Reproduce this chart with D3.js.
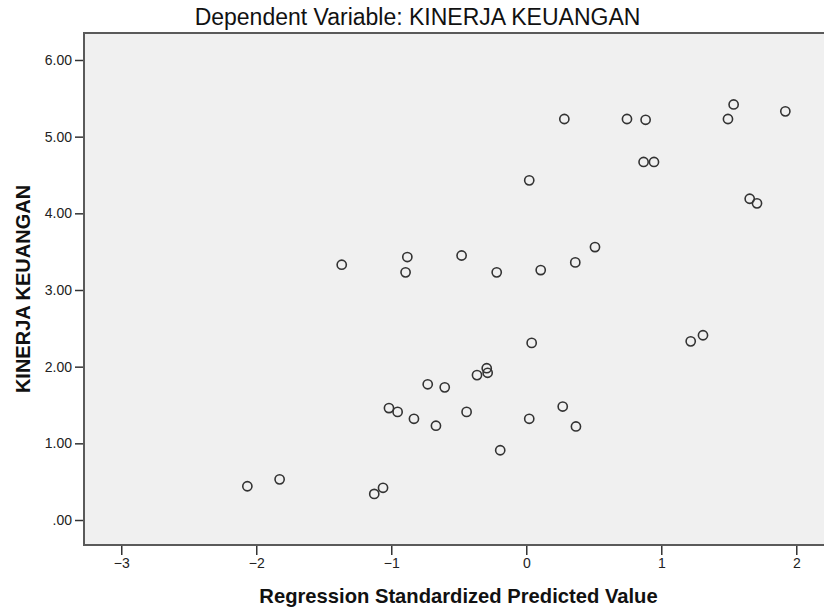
<!DOCTYPE html>
<html>
<head>
<meta charset="utf-8">
<script src="https://cdn.jsdelivr.net/npm/d3@7"></script>
<style>
  html, body { margin: 0; padding: 0; background: #fff; }
  svg { display: block; font-family: "Liberation Sans", Arial, sans-serif; }
</style>
</head>
<body>
<div id="chart"></div>
<script>
// ---- data ----
const predicted = [
  -1.367, -0.881, -0.894, -0.479, -0.219, 0.107, 0.363, 0.509,
  0.746, 0.884, 0.869, 0.946, 1.536, 1.494, 1.919, 1.655, 1.709,
  0.282, 0.022, 0.040, -0.293, -0.286, -0.365, -0.730, -0.604,
  -1.017, -0.953, -0.832, -0.669, -0.442, 0.022, 0.270, 0.368,
  -0.193, -1.126, -1.061, -2.066, -1.827, 1.218, 1.309
];
const kinerja = [
  3.33, 3.43, 3.23, 3.45, 3.23, 3.26, 3.36, 3.56,
  5.23, 5.22, 4.67, 4.67, 5.42, 5.23, 5.33, 4.19, 4.13,
  5.23, 4.43, 2.31, 1.98, 1.92, 1.89, 1.77, 1.73,
  1.46, 1.41, 1.32, 1.23, 1.41, 1.32, 1.48, 1.22,
  0.91, 0.34, 0.42, 0.44, 0.53, 2.33, 2.41
];
const xTicks = [-3, -2, -1, 0, 1, 2];
const yTicks = [0, 1, 2, 3, 4, 5, 6];
const titleText = "Dependent Variable: KINERJA KEUANGAN";
const xLabel = "Regression Standardized Predicted Value";
const yLabel = "KINERJA KEUANGAN";

// ---- layout ----
const W = 824, H = 609;
const plot = { left: 84, right: 833, top: 33, bottom: 545 };

const svg = d3.select("#chart").append("svg")
  .attr("width", W).attr("height", H);

const x = d3.scaleLinear().domain([-3.276, 2.272]).range([plot.left, plot.right]);
const y = d3.scaleLinear().domain([-0.326, 6.352]).range([plot.bottom, plot.top]);

// background
svg.append("rect")
  .attr("x", plot.left).attr("y", plot.top)
  .attr("width", plot.right - plot.left).attr("height", plot.bottom - plot.top)
  .attr("fill", "#f0f0f0").attr("stroke", "#5a5a5a").attr("stroke-width", 2);

// y axis
const yAxis = d3.axisLeft(y).tickValues(yTicks).tickSize(8).tickPadding(3)
  .tickFormat(d => d === 0 ? ".00" : d3.format(".2f")(d));
const gy = svg.append("g").attr("transform", `translate(${plot.left - 1},0)`).call(yAxis);
gy.select(".domain").remove();
gy.selectAll(".tick line").attr("stroke", "#333").attr("stroke-width", 1.5);
gy.selectAll(".tick text").attr("fill", "#222").style("font-size", "14px");

// x axis
const xAxis = d3.axisBottom(x).tickValues(xTicks).tickSize(9).tickPadding(3)
  .tickFormat(d3.format("d"));
const gx = svg.append("g").attr("transform", `translate(0,${plot.bottom + 1})`).call(xAxis);
gx.select(".domain").remove();
gx.selectAll(".tick line").attr("stroke", "#333").attr("stroke-width", 1.5);
gx.selectAll(".tick text").attr("fill", "#222").style("font-size", "14px");

// points
const pts = predicted.map((v, i) => ({ x: v, y: kinerja[i] }));
svg.append("g").selectAll("circle").data(pts).join("circle")
  .attr("cx", d => x(d.x)).attr("cy", d => y(d.y))
  .attr("r", 4.6)
  .attr("fill", "none").attr("stroke", "#333").attr("stroke-width", 1.6);

// title
svg.append("text")
  .attr("x", 417.5).attr("y", 25)
  .attr("text-anchor", "middle")
  .style("font-size", "23px").attr("fill", "#111")
  .text(titleText);

// x label
svg.append("text")
  .attr("x", 458.5).attr("y", 603)
  .attr("text-anchor", "middle")
  .style("font-size", "20.2px").style("font-weight", "bold").attr("fill", "#111")
  .text(xLabel);

// y label
svg.append("text")
  .attr("transform", `translate(30,${(plot.top + plot.bottom) / 2}) rotate(-90)`)
  .attr("text-anchor", "middle")
  .style("font-size", "20px").style("font-weight", "bold").attr("fill", "#111")
  .text(yLabel);
</script>
</body>
</html>
